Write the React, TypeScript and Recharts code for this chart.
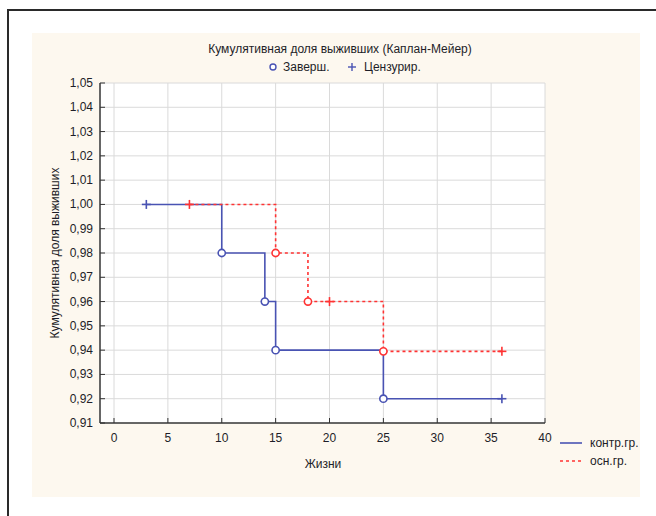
import React from 'react';
import { LineChart, Line, XAxis, YAxis, CartesianGrid } from 'recharts';

const chartTitle = 'Кумулятивная доля выживших (Каплан-Мейер)';
const markerLegend = ['Заверш.', 'Цензурир.'];
const xLabel = 'Жизни';
const yLabel = 'Кумулятивная доля выживших';

const xTicks = [0, 5, 10, 15, 20, 25, 30, 35, 40];
const yTicks = [0.91, 0.92, 0.93, 0.94, 0.95, 0.96, 0.97, 0.98, 0.99, 1.0, 1.01, 1.02, 1.03, 1.04, 1.05];

const seriesNames = ['контр.гр.', 'осн.гр.'];

const controlTimes = [3, 10, 14, 15, 25, 36];
const controlSurvival = [1.0, 0.98, 0.96, 0.94, 0.92, 0.92];
const controlMarks = ['+', 'o', 'o', 'o', 'o', '+'];

const mainTimes = [7, 15, 18, 20, 25, 36];
const mainSurvival = [1.0, 0.98, 0.96, 0.96, 0.9395, 0.9395];
const mainMarks = ['+', 'o', 'o', '+', 'o', '+'];

const BLUE = '#4953b3';
const RED = '#ff3333';
const TEXT = '#1e1e28';
const FONT = '"Liberation Sans", Arial, sans-serif';

const build = (t: number[], s: number[], m: string[]) =>
  t.map((v, i) => ({ t: v, s: s[i], m: m[i] }));

const controlData = build(controlTimes, controlSurvival, controlMarks);
const mainData = build(mainTimes, mainSurvival, mainMarks);

const fmt = (v: number) => v.toFixed(2).replace('.', ',');

const makeDot = (color: string) => (props: any) => {
  const { cx, cy, payload, index } = props;
  if (cx == null || cy == null) return <g key={`d-${index}`} />;
  if (payload.m === 'o') {
    return (
      <circle key={`d-${index}`} cx={cx} cy={cy} r={3.6} fill="#fff" stroke={color} strokeWidth={1.6} />
    );
  }
  return (
    <g key={`d-${index}`}>
      <line x1={cx - 4.5} x2={cx + 4.5} y1={cy} y2={cy} stroke={color} strokeWidth={1.6} />
      <line x1={cx} x2={cx} y1={cy - 4.5} y2={cy + 4.5} stroke={color} strokeWidth={1.6} />
    </g>
  );
};

const YTick = (props: any) => {
  const { x, y, payload } = props;
  return (
    <g>
      <line x1={x + 7} x2={x + 12} y1={y} y2={y} stroke="#333" strokeWidth={1} />
      <text x={x} y={y} dy={4} textAnchor="end" fontSize={12} fontFamily={FONT} fill={TEXT}>
        {fmt(payload.value)}
      </text>
    </g>
  );
};

const XTick = (props: any) => {
  const { x, y, payload } = props;
  return (
    <g>
      <line x1={x} x2={x} y1={y - 10} y2={y - 15} stroke="#333" strokeWidth={1} />
      <text x={x} y={y} dy={9} textAnchor="middle" fontSize={12} fontFamily={FONT} fill={TEXT}>
        {payload.value}
      </text>
    </g>
  );
};

export default function App() {
  return (
    <div style={{ position: 'absolute', left: 0, top: 0, width: 656, height: 516, background: '#fff', overflow: 'hidden' }}>
      <div style={{ position: 'absolute', left: 7, top: 9, width: 660, height: 2, background: '#2a2a2a' }} />
      <div style={{ position: 'absolute', left: 7, top: 9, width: 2, height: 520, background: '#2a2a2a' }} />
      <div style={{ position: 'absolute', left: 32, top: 33, width: 608, height: 464, background: '#fdf8ef' }} />
      <div style={{ position: 'absolute', left: 0, top: 0 }}>
        <LineChart
          width={656}
          height={516}
          margin={{ top: 83, right: 111, bottom: 63, left: 40 }}
        >
          <CartesianGrid stroke="#dadada" strokeWidth={1} fill="#ffffff" />
          <XAxis
            type="number"
            dataKey="t"
            domain={[-1.3, 40]}
            ticks={xTicks}
            allowDataOverflow
            height={30}
            tickSize={0}
            tickMargin={10}
            tick={<XTick />}
            axisLine={{ stroke: '#3a3a3a', strokeWidth: 1.5 }}
            tickLine={false}
          />
          <XAxis
            xAxisId="top"
            orientation="top"
            type="number"
            domain={[-1.3, 40]}
            height={0}
            tick={false}
            tickLine={false}
            axisLine={{ stroke: '#3a3a3a', strokeWidth: 1.5 }}
          />
          <YAxis
            type="number"
            domain={[0.91, 1.05]}
            ticks={yTicks}
            allowDataOverflow
            width={60}
            tickSize={0}
            tickMargin={7}
            tick={<YTick />}
            axisLine={{ stroke: '#3a3a3a', strokeWidth: 1.5 }}
            tickLine={false}
            interval={0}
          />
          <YAxis
            yAxisId="right"
            orientation="right"
            type="number"
            domain={[0.91, 1.05]}
            width={0}
            tick={false}
            tickLine={false}
            axisLine={{ stroke: '#3a3a3a', strokeWidth: 1.5 }}
          />
          <Line
            data={controlData}
            dataKey="s"
            name={seriesNames[0]}
            type="stepAfter"
            stroke={BLUE}
            strokeWidth={1.6}
            dot={makeDot(BLUE)}
            activeDot={false}
            isAnimationActive={false}
          />
          <Line
            data={mainData}
            dataKey="s"
            name={seriesNames[1]}
            type="stepAfter"
            stroke={RED}
            strokeWidth={1.6}
            strokeDasharray="3 3"
            dot={makeDot(RED)}
            activeDot={false}
            isAnimationActive={false}
          />
        </LineChart>
      </div>
      <svg width={656} height={516} style={{ position: 'absolute', left: 0, top: 0, pointerEvents: 'none' }}>
        <text x={340} y={53} textAnchor="middle" fontSize={12} fontFamily={FONT} fill={TEXT}>
          {chartTitle}
        </text>
        <circle cx={273} cy={67} r={3} fill="#fff" stroke={BLUE} strokeWidth={1.4} />
        <text x={283} y={71} fontSize={12} fontFamily={FONT} fill={TEXT}>{markerLegend[0]}</text>
        <line x1={348} x2={356} y1={67} y2={67} stroke={BLUE} strokeWidth={1.4} />
        <line x1={352} x2={352} y1={63} y2={71} stroke={BLUE} strokeWidth={1.4} />
        <text x={364} y={71} fontSize={12} fontFamily={FONT} fill={TEXT}>{markerLegend[1]}</text>
        <text
          x={0}
          y={0}
          transform="translate(59,253) rotate(-90)"
          textAnchor="middle"
          fontSize={12}
          fontFamily={FONT}
          fill={TEXT}
        >
          {yLabel}
        </text>
        <text x={323} y={468} textAnchor="middle" fontSize={12} fontFamily={FONT} fill={TEXT}>
          {xLabel}
        </text>
        <line x1={560} x2={582} y1={443} y2={443} stroke={BLUE} strokeWidth={1.6} />
        <text x={590} y={447} fontSize={12} fontFamily={FONT} fill={TEXT}>{seriesNames[0]}</text>
        <line x1={560} x2={582} y1={461} y2={461} stroke={RED} strokeWidth={1.6} strokeDasharray="3 3" />
        <text x={590} y={465} fontSize={12} fontFamily={FONT} fill={TEXT}>{seriesNames[1]}</text>
      </svg>
    </div>
  );
}
